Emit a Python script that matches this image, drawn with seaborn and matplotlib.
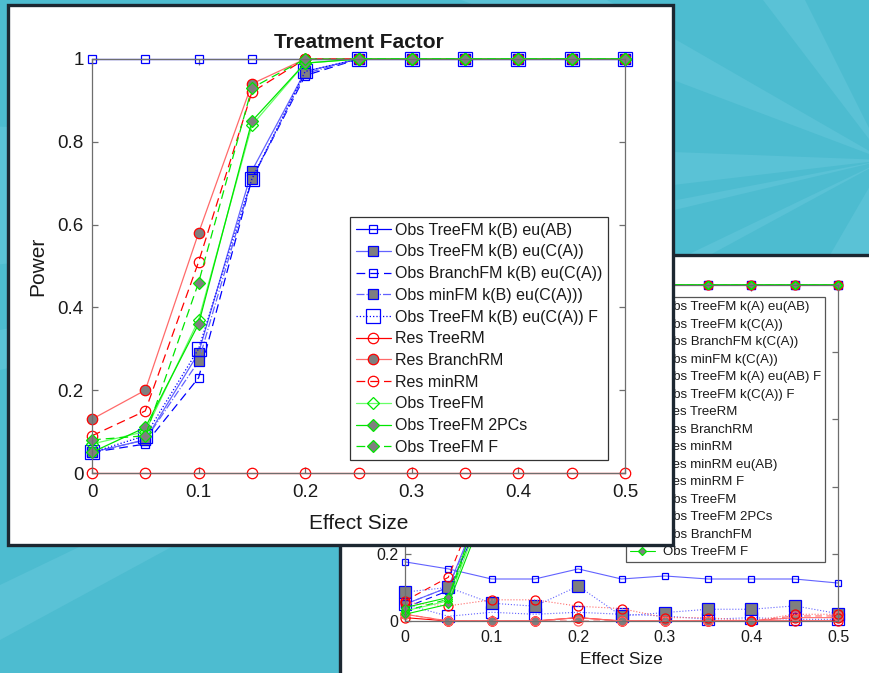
import matplotlib
matplotlib.use("Agg")
import matplotlib.pyplot as plt
from matplotlib.patches import Rectangle, Polygon
from matplotlib.ticker import FuncFormatter
import seaborn as sns

sns.set_theme(style="white")
plt.rcParams["font.family"] = ["Liberation Sans", "DejaVu Sans"]

# ---------------------------------------------------------------- data
effect_size = [0, 0.05, 0.1, 0.15, 0.2, 0.25, 0.3, 0.35, 0.4, 0.45, 0.5]

# Treatment factor (front panel)
tf_labels = [
    "Obs TreeFM k(B) eu(AB)",
    "Obs TreeFM k(B) eu(C(A))",
    "Obs BranchFM k(B) eu(C(A))",
    "Obs minFM k(B) eu(C(A)))",
    "Obs TreeFM k(B) eu(C(A)) F",
    "Res TreeRM",
    "Res BranchRM",
    "Res minRM",
    "Obs TreeFM",
    "Obs TreeFM 2PCs",
    "Obs TreeFM F",
]
tf_tree_ab = [1, 1, 1, 1, 1, 1, 1, 1, 1, 1, 1]
tf_tree_ca = [0.05, 0.08, 0.29, 0.73, 0.97, 1, 1, 1, 1, 1, 1]
tf_branch_ca = [0.05, 0.07, 0.23, 0.71, 0.96, 1, 1, 1, 1, 1, 1]
tf_min_ca = [0.05, 0.08, 0.27, 0.71, 0.965, 1, 1, 1, 1, 1, 1]
tf_tree_ca_f = [0.05, 0.09, 0.30, 0.71, 0.97, 1, 1, 1, 1, 1, 1]
tf_res_tree = [0, 0, 0, 0, 0, 0, 0, 0, 0, 0, 0]
tf_res_branch = [0.13, 0.20, 0.58, 0.94, 1, 1, 1, 1, 1, 1, 1]
tf_res_min = [0.09, 0.15, 0.51, 0.92, 1, 1, 1, 1, 1, 1, 1]
tf_obs_tree = [0.07, 0.10, 0.37, 0.84, 0.99, 1, 1, 1, 1, 1, 1]
tf_obs_2pcs = [0.05, 0.11, 0.36, 0.85, 0.99, 1, 1, 1, 1, 1, 1]
tf_obs_f = [0.08, 0.09, 0.46, 0.93, 1, 1, 1, 1, 1, 1, 1]

# Second factor (back panel)
sf_labels = [
    "Obs TreeFM k(A) eu(AB)",
    "Obs TreeFM k(C(A))",
    "Obs BranchFM k(C(A))",
    "Obs minFM k(C(A))",
    "Obs TreeFM k(A) eu(AB) F",
    "Obs TreeFM k(C(A)) F",
    "Res TreeRM",
    "Res BranchRM",
    "Res minRM",
    "Res minRM eu(AB)",
    "Res minRM F",
    "Obs TreeFM",
    "Obs TreeFM 2PCs",
    "Obs BranchFM",
    "Obs TreeFM F",
]
sf_tree_ab = [0.176, 0.155, 0.125, 0.125, 0.155, 0.125, 0.134, 0.125, 0.125, 0.125, 0.113]
sf_tree_ca = [0.05, 0.10, 0.42, 0.86, 0.99, 1, 1, 1, 1, 1, 1]
sf_branch_ca = [0.04, 0.09, 0.38, 0.83, 0.98, 1, 1, 1, 1, 1, 1]
sf_min_ca = [0.05, 0.10, 0.40, 0.85, 0.99, 1, 1, 1, 1, 1, 1]
sf_tree_ab_f = [0.05, 0.014, 0.026, 0.02, 0.026, 0.02, 0.015, 0.005, 0.01, 0.005, 0.005]
sf_tree_ca_f = [0.086, 0.10, 0.053, 0.044, 0.104, 0.015, 0.025, 0.035, 0.035, 0.045, 0.022]
sf_res_tree = [0.01, 0, 0, 0, 0.01, 0, 0, 0, 0, 0, 0]
sf_res_branch = [0.02, 0, 0, 0, 0.01, 0, 0, 0, 0, 0.01, 0.01]
sf_res_min = [0.06, 0.13, 0.45, 0.90, 1, 1, 1, 1, 1, 1, 1]
sf_res_min_ab = [0.02, 0, 0, 0, 0, 0, 0, 0, 0, 0.015, 0.015]
sf_res_min_f = [0.055, 0.045, 0.063, 0.063, 0.044, 0.037, 0.01, 0.01, 0, 0.02, 0.02]
sf_obs_tree = [0.03, 0.06, 0.40, 0.86, 1, 1, 1, 1, 1, 1, 1]
sf_obs_2pcs = [0.02, 0.05, 0.38, 0.85, 1, 1, 1, 1, 1, 1, 1]
sf_obs_branch = [0.03, 0.065, 0.42, 0.88, 1, 1, 1, 1, 1, 1, 1]
sf_obs_f = [0.04, 0.07, 0.44, 0.90, 1, 1, 1, 1, 1, 1, 1]

x_ticks = [0, 0.1, 0.2, 0.3, 0.4, 0.5]
y_ticks = [0, 0.2, 0.4, 0.6, 0.8, 1]

# ---------------------------------------------------------------- styles
BLUE, LBLUE = "#0000ff", "#6262ff"
RED, LRED = "#ff0000", "#ff6a6a"
GREEN, LGREEN = "#00e600", "#66ff66"
GREY = "#7f7f7f"
SPINE = "#6e6e6e"
TEXT = "#1a1a1a"
TEAL, TEAL_LIGHT = "#4dbcd0", "#5ac2d6"
BORDER = "#1c2731"


def style(color, ls, marker, ms, mfc, mec):
    return dict(color=color, linestyle=ls, marker=marker, markersize=ms,
                markerfacecolor=mfc, markeredgecolor=mec)


tf_series = [tf_tree_ab, tf_tree_ca, tf_branch_ca, tf_min_ca, tf_tree_ca_f,
             tf_res_tree, tf_res_branch, tf_res_min,
             tf_obs_tree, tf_obs_2pcs, tf_obs_f]
tf_styles = [
    style(BLUE, "-", "s", 5.5, "none", BLUE),
    style(LBLUE, "-", "s", 6.5, GREY, BLUE),
    style(BLUE, (0, (7, 4)), "s", 5.5, "none", BLUE),
    style(LBLUE, "-.", "s", 6.5, GREY, BLUE),
    style(BLUE, ":", "s", 9.5, "none", BLUE),
    style(RED, "-", "o", 7.5, "none", RED),
    style(LRED, "-", "o", 7.5, GREY, RED),
    style(RED, (0, (7, 4)), "o", 7.5, "none", RED),
    style(LGREEN, "-", "D", 6, "none", GREEN),
    style(GREEN, "-", "D", 6, GREY, GREEN),
    style(GREEN, (0, (7, 4)), "D", 6, GREY, GREEN),
]

sf_series = [sf_tree_ab, sf_tree_ca, sf_branch_ca, sf_min_ca, sf_tree_ab_f,
             sf_tree_ca_f, sf_res_tree, sf_res_branch, sf_res_min,
             sf_res_min_ab, sf_res_min_f, sf_obs_tree, sf_obs_2pcs,
             sf_obs_branch, sf_obs_f]
sf_styles = [
    style(LBLUE, "-", "s", 5, "none", BLUE),
    style(LBLUE, "-", "s", 6, GREY, BLUE),
    style(BLUE, (0, (6, 4)), "s", 5, "none", BLUE),
    style(LBLUE, "-.", "s", 6, GREY, BLUE),
    style(LBLUE, ":", "s", 9, "none", BLUE),
    style(LBLUE, ":", "s", 9, GREY, BLUE),
    style(RED, "-", "o", 6.5, "none", RED),
    style(LRED, "-", "o", 6.5, GREY, RED),
    style(RED, (0, (6, 4)), "o", 6.5, "none", RED),
    style(LRED, (0, (6, 4)), "o", 6.5, "none", LRED),
    style(LRED, ":", "o", 6.5, "none", RED),
    style(LGREEN, "-", "D", 4.5, "none", GREEN),
    style(GREEN, "-", "D", 4.5, GREY, GREEN),
    style(GREEN, (0, (6, 4)), "D", 4.5, "none", GREEN),
    style(GREEN, "-", "D", 4.5, GREY, GREEN),
]


def draw_series(ax, values, label, st, lw=0.9):
    sns.lineplot(x=effect_size, y=values, ax=ax, label=label, estimator=None,
                 sort=False, linewidth=lw, markeredgewidth=0.9,
                 clip_on=False, **st)


def dress_axes(ax, tick_size, xpad, ypad, y_label_max=1.0):
    ax.set_xlim(0, 0.5)
    ax.set_ylim(0, 1)
    ax.set_xticks(x_ticks)
    ax.set_yticks(y_ticks)
    ax.xaxis.set_major_formatter(FuncFormatter(lambda v, _: f"{v:g}"))
    ax.yaxis.set_major_formatter(
        FuncFormatter(lambda v, _: f"{v:g}" if v <= y_label_max + 1e-9 else ""))
    for sp in ax.spines.values():
        sp.set_visible(True)
        sp.set_color(SPINE)
        sp.set_linewidth(0.9)
    ax.tick_params(axis="both", which="both", direction="in", length=4.5,
                   width=0.9, color=SPINE, labelcolor=TEXT,
                   labelsize=tick_size, top=True, right=True,
                   bottom=True, left=True)
    ax.tick_params(axis="x", pad=xpad)
    ax.tick_params(axis="y", pad=ypad)
    ax.grid(False)


# ---------------------------------------------------------------- figure
W, H = 869, 673
fig = plt.figure(figsize=(W / 100, H / 100), dpi=100)
fig.patch.set_facecolor(TEAL)

# backdrop with light rays and the rear panel frame
bg = fig.add_axes([0, 0, 1, 1], zorder=0)
bg.set_xlim(0, W)
bg.set_ylim(H, 0)
bg.axis("off")
cx, cy = 885, 160
ray_targets = [((763, 0), (805, 0)), ((673, 38), (673, 80)),
               ((673, 152), (673, 185)), ((830, 255), (875, 255)),
               ((0, 585), (0, 640)), ((0, 330), (0, 370))]
for (ax_, ay_), (bx_, by_) in ray_targets:
    k = 6
    pts = [(cx, cy), (cx + (ax_ - cx) * k, cy + (ay_ - cy) * k),
           (cx + (bx_ - cx) * k, cy + (by_ - cy) * k)]
    bg.add_patch(Polygon(pts, closed=True, facecolor=TEAL_LIGHT,
                         edgecolor="none"))
bg.add_patch(Rectangle((340, 255), 700, 600, facecolor="white",
                       edgecolor=BORDER, linewidth=2.4))

# rear panel
ax2 = fig.add_axes([405 / W, 1 - 621 / H, (838 - 405) / W, (621 - 285) / H],
                   zorder=1)
ax2.set_facecolor("white")
for vals, lab, st in zip(sf_series, sf_labels, sf_styles):
    draw_series(ax2, vals, lab, st, lw=0.8)
# only the lowest y labels of the rear panel stay uncovered
dress_axes(ax2, 11.5, 6.5, 4.5, y_label_max=0.2)
ax2.set_xlabel("Effect Size", fontsize=12.5, color=TEXT, va="center")
ax2.xaxis.set_label_coords(0.5, -0.116)
ax2.set_ylabel("")
leg2 = ax2.legend(loc="upper right", bbox_to_anchor=(0.970, 0.964),
                  borderaxespad=0, fontsize=9.5, frameon=True, fancybox=False,
                  edgecolor="#555555", framealpha=1, numpoints=1,
                  handlelength=1.9, handletextpad=0.6, labelspacing=0.40,
                  borderpad=0.3)
leg2.get_frame().set_linewidth(0.9)
for t in leg2.get_texts():
    t.set_color(TEXT)

# front panel frame
cover = fig.add_axes([0, 0, 1, 1], zorder=2)
cover.set_xlim(0, W)
cover.set_ylim(H, 0)
cover.axis("off")
cover.add_patch(Rectangle((8, 5), 665, 540, facecolor="white",
                          edgecolor=BORDER, linewidth=2.4))

# front panel: treatment factor
ax1 = fig.add_axes([92 / W, 1 - 473 / H, 533 / W, 414 / H], zorder=3)
ax1.set_facecolor("white")
for vals, lab, st in zip(tf_series, tf_labels, tf_styles):
    draw_series(ax1, vals, lab, st, lw=0.9)
dress_axes(ax1, 13.5, 8.0, 6.0)
ax1.set_xlabel("Effect Size", fontsize=15, color=TEXT, va="center")
ax1.xaxis.set_label_coords(0.5, -0.121)
ax1.set_ylabel("Power", fontsize=15, color=TEXT, va="center")
ax1.yaxis.set_label_coords(-0.101, 0.5)
ax1.set_title("Treatment Factor", fontsize=15, fontweight="bold",
              color=TEXT, y=1.041, pad=0, va="center")
leg1 = ax1.legend(loc="upper right", bbox_to_anchor=(0.968, 0.618),
                  borderaxespad=0, fontsize=11.5, frameon=True, fancybox=False,
                  edgecolor="#333333", framealpha=1, numpoints=1,
                  handlelength=2.2, handletextpad=0.25, labelspacing=0.42,
                  borderpad=0.35)
leg1.get_frame().set_linewidth(0.9)
for t in leg1.get_texts():
    t.set_color(TEXT)

fig.savefig("out.png", dpi=100, facecolor=fig.get_facecolor())
